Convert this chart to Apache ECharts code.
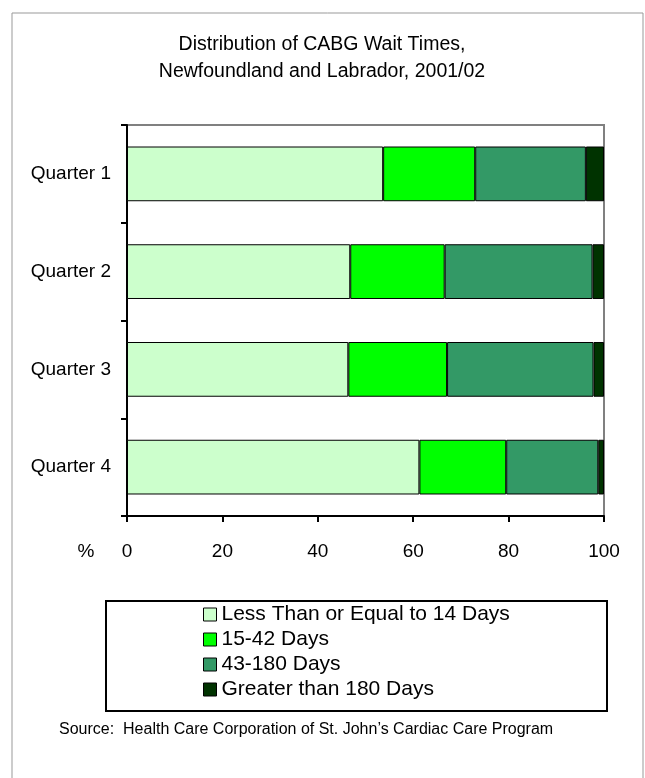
<!DOCTYPE html>
<html>
<head>
<meta charset="utf-8">
<script src="https://cdn.jsdelivr.net/npm/echarts@6/dist/echarts.min.js"></script>
<style>
  html, body { margin: 0; padding: 0; background: #fff; }
  #chart { width: 645px; height: 778px; }
</style>
</head>
<body>
<div id="chart"></div>
<script>
const categories = ['Quarter 1', 'Quarter 2', 'Quarter 3', 'Quarter 4'];
const seriesNames = ['Less Than or Equal to 14 Days', '15-42 Days', '43-180 Days', 'Greater than 180 Days'];
const le14 = [53.7, 46.8, 46.4, 61.3];
const d15to42 = [19.3, 19.8, 20.7, 18.2];
const d43to180 = [23.2, 31.0, 30.7, 19.3];
const gt180 = [3.8, 2.4, 2.2, 1.2];
const xTicks = [0, 20, 40, 60, 80, 100];
const colors = ['#CCFFCC', '#00FF00', '#339966', '#003300'];

const font = 'Liberation Sans, Arial, sans-serif';
const values = [le14, d15to42, d43to180, gt180];

const chart = echarts.init(document.getElementById('chart'), null, { renderer: 'canvas' });
chart.setOption({
  animation: false,
  backgroundColor: '#fff',
  textStyle: { fontFamily: font, color: '#000' },
  title: {
    text: 'Distribution of CABG Wait Times,\nNewfoundland and Labrador, 2001/02',
    left: 322,
    top: 31,
    padding: 0,
    textAlign: 'center',
    textStyle: { fontFamily: font, fontSize: 19.5, fontWeight: 'normal', color: '#000', lineHeight: 27 }
  },
  grid: {
    left: 127, right: 41, top: 125, bottom: 262,
    show: true, borderColor: '#808080', borderWidth: 2, backgroundColor: 'transparent'
  },
  xAxis: {
    type: 'value',
    min: xTicks[0], max: xTicks[xTicks.length - 1], interval: 20,
    axisLine: { show: true, lineStyle: { color: '#000', width: 2 } },
    axisTick: { show: true, length: 6, lineStyle: { color: '#000', width: 2 } },
    axisLabel: { fontFamily: font, fontSize: 19, color: '#000', margin: 26 },
    splitLine: { show: false }
  },
  yAxis: {
    type: 'category',
    data: categories,
    inverse: true,
    axisLine: { show: true, lineStyle: { color: '#000', width: 2 } },
    axisTick: { show: true, length: 6, lineStyle: { color: '#000', width: 2 } },
    axisLabel: { fontFamily: font, fontSize: 19, color: '#000', margin: 16 }
  },
  legend: {
    orient: 'vertical',
    left: 203,
    top: 604,
    padding: 0,
    itemWidth: 13,
    itemHeight: 13,
    itemGap: 4,
    itemTextGap: 5,
    icon: 'rect',
    data: seriesNames,
    textStyle: { fontFamily: font, fontSize: 21, color: '#000', lineHeight: 21 },
    itemStyle: { borderColor: '#000', borderWidth: 1 }
  },
  graphic: [
    { type: 'rect', shape: { x: 12, y: 13, width: 631, height: 800 }, style: { fill: 'none', stroke: '#999', lineWidth: 1 }, silent: true, z: -1 },
    { type: 'rect', shape: { x: 106, y: 601, width: 501, height: 110 }, style: { fill: 'none', stroke: '#000', lineWidth: 2 }, silent: true },
    { type: 'text', x: 86, y: 552, style: { text: '%', fontFamily: font, fontSize: 19, fill: '#000', align: 'center', verticalAlign: 'middle' } },
    { type: 'text', x: 59, y: 730, style: { text: 'Source:  Health Care Corporation of St. John\u2019s Cardiac Care Program', fontFamily: font, fontSize: 16, fill: '#000', align: 'left', verticalAlign: 'middle' } }
  ],
  series: seriesNames.map((name, i) => ({
    name: name,
    type: 'bar',
    stack: 'total',
    data: values[i],
    barCategoryGap: '44%',
    itemStyle: { color: colors[i], borderColor: '#000', borderWidth: 1 }
  }))
});
</script>
</body>
</html>
